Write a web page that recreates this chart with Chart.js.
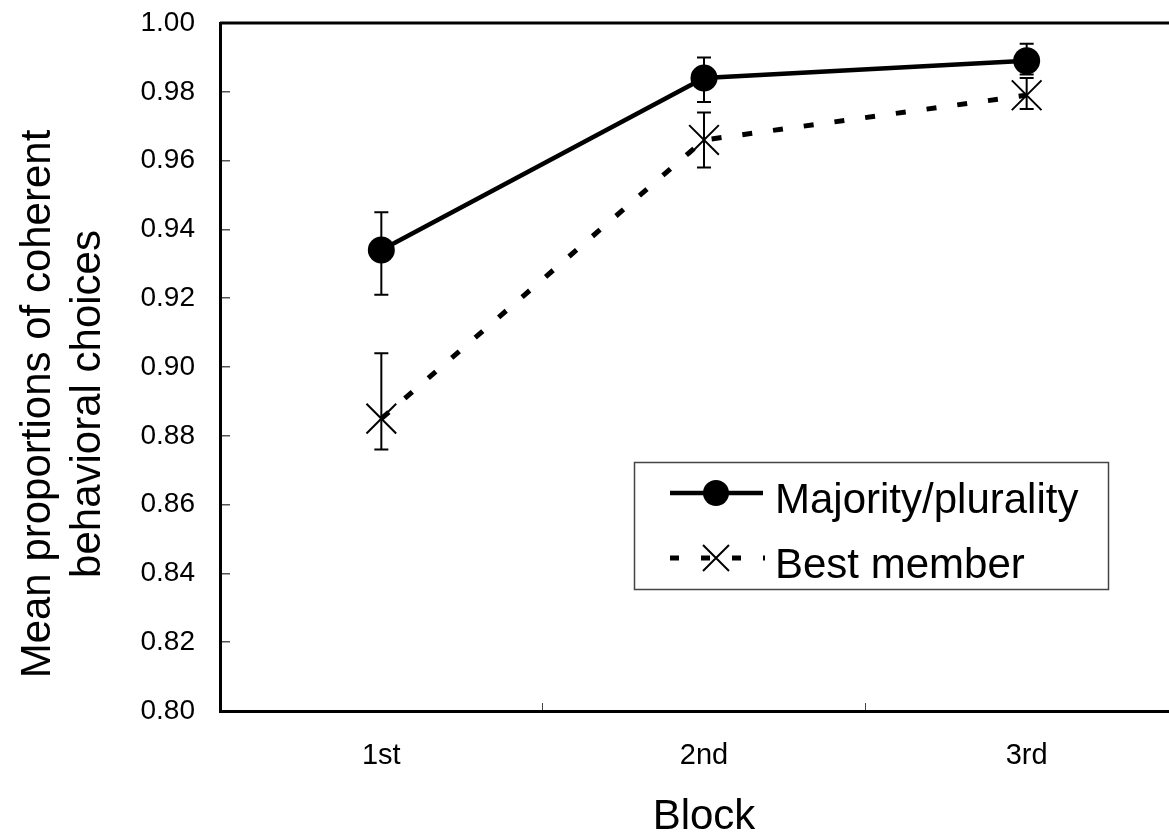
<!DOCTYPE html>
<html>
<head>
<meta charset="utf-8">
<script src="https://cdn.jsdelivr.net/npm/chart.js@4.4.1/dist/chart.umd.min.js"></script>
<style>
html, body { margin: 0; padding: 0; background: #fff; overflow: hidden; }
#wrap { position: relative; width: 1169px; height: 836px; }
</style>
</head>
<body>
<div id="wrap"><canvas id="myChart"></canvas></div>
<script>
// values
const blocks = ['1st', '2nd', '3rd'];
const majority = [0.934, 0.984, 0.989];
const majorityLow = [0.921, 0.977, 0.985];
const majorityHigh = [0.945, 0.990, 0.994];
const best = [0.885, 0.966, 0.979];
const bestLow = [0.876, 0.958, 0.975];
const bestHigh = [0.904, 0.974, 0.984];
const seriesNames = ['Majority/plurality', 'Best member'];
const yTitle = ['Mean proportions of coherent', 'behavioral choices'];
const xTitle = 'Block';

const FONT = '"Liberation Sans", Arial, sans-serif';

/*------ the original plot is cropped: its right edge lies past the picture ------*/
const widenX = {
    id: 'widenX',
    afterLayout(chart) {
        const xs = chart.scales.x, a = chart.chartArea;
        const right = 1188;
        xs.right = right;
        xs.width = right - xs.left;
        xs.configure();
        a.right = right;
        a.width = right - a.left;
    }
};

/*------ error bars, drawn through the scales ------*/
const errorBars = {
    id: 'errorBars',
    beforeDatasetsDraw(chart) {
        const ctx = chart.ctx, xs = chart.scales.x, ys = chart.scales.y;
        const sets = [[majorityLow, majorityHigh], [bestLow, bestHigh]];
        ctx.save();
        ctx.strokeStyle = '#000';
        ctx.lineWidth = 2;
        sets.forEach(([lo, hi]) => {
            lo.forEach((v, i) => {
                const px = xs.getPixelForValue(i);
                const y1 = ys.getPixelForValue(v), y2 = ys.getPixelForValue(hi[i]);
                ctx.beginPath();
                ctx.moveTo(px, y1); ctx.lineTo(px, y2);
                ctx.moveTo(px - 7, y1); ctx.lineTo(px + 7, y1);
                ctx.moveTo(px - 7, y2); ctx.lineTo(px + 7, y2);
                ctx.stroke();
            });
        });
        ctx.restore();
    }
};

/*------ top frame line, y title, legend box ------*/
const extras = {
    id: 'extras',
    afterDraw(chart) {
        const ctx = chart.ctx, a = chart.chartArea;
        ctx.save();
        // top border
        ctx.strokeStyle = '#000';
        ctx.lineWidth = 3;
        ctx.beginPath();
        ctx.moveTo(a.left, a.top);
        ctx.lineTo(chart.width, a.top);
        ctx.stroke();

        // y axis title (two lines)
        ctx.fillStyle = '#000';
        ctx.font = '42px ' + FONT;
        ctx.textAlign = 'center';
        ctx.textBaseline = 'alphabetic';
        ctx.save();
        ctx.translate(50, (a.top + a.bottom) / 2 + 37);
        ctx.rotate(-Math.PI / 2);
        ctx.fillText(yTitle[0], 0, 0);
        ctx.fillText(yTitle[1], 0, 50);
        ctx.restore();

        // legend
        ctx.strokeStyle = '#444';
        ctx.lineWidth = 1.5;
        ctx.strokeRect(634.5, 462.5, 474, 127);

        ctx.strokeStyle = '#000';
        ctx.lineWidth = 4.5;
        ctx.beginPath();
        ctx.moveTo(670, 493); ctx.lineTo(763, 493);
        ctx.stroke();
        ctx.beginPath();
        ctx.arc(716, 493, 13, 0, Math.PI * 2);
        ctx.fill();

        ctx.lineWidth = 5;
        ctx.setLineDash([9, 22]);
        ctx.beginPath();
        ctx.moveTo(670, 558); ctx.lineTo(765, 558);
        ctx.stroke();
        ctx.setLineDash([]);
        ctx.lineWidth = 2;
        ctx.beginPath();
        ctx.moveTo(703, 545); ctx.lineTo(729, 571);
        ctx.moveTo(729, 545); ctx.lineTo(703, 571);
        ctx.stroke();

        ctx.textAlign = 'left';
        ctx.fillText(seriesNames[0], 775, 513);
        ctx.fillText(seriesNames[1], 775, 578);
        ctx.restore();
    }
};

const ctx = document.getElementById('myChart');
const myChart = new Chart(ctx, {
    type: 'line',
    data: {
        labels: blocks,
        datasets: [{
            label: seriesNames[0],
            data: majority,
            borderColor: '#000',
            backgroundColor: '#000',
            borderWidth: 4.5,
            pointStyle: 'circle',
            pointRadius: 13.5,
            pointBackgroundColor: '#000',
            pointBorderWidth: 0,
            tension: 0
        }, {
            label: seriesNames[1],
            data: best,
            borderColor: '#000',
            backgroundColor: '#000',
            borderWidth: 5,
            borderDash: [10, 21],
            pointStyle: 'crossRot',
            pointRadius: 21,
            pointBorderWidth: 2,
            pointBorderColor: '#000',
            tension: 0
        }]
    },
    options: {
        responsive: true,
        maintainAspectRatio: false,
        animation: false,
        layout: { padding: { left: 0, top: 23, right: 2, bottom: 0 } },
        plugins: {
            legend: { display: false },
            tooltip: { enabled: false }
        },
        scales: {
            x: {
                offset: true,
                grid: { offset: true, drawOnChartArea: false, tickLength: -8, color: '#444', lineWidth: 1 },
                border: { color: '#000', width: 3 },
                ticks: { color: '#000', font: { family: FONT, size: 29 }, padding: 36 },
                title: { display: true, text: xTitle, color: '#000', font: { family: FONT, size: 42 }, padding: { top: 0, bottom: -7 } },
                afterFit(s) { s.height = 125; s.paddingLeft = 0; s.paddingRight = 0; }
            },
            y: {
                min: 0.8,
                max: 1.0,
                ticks: {
                    stepSize: 0.02,
                    color: '#000',
                    font: { family: FONT, size: 28 },
                    padding: 35,
                    callback: v => v.toFixed(2)
                },
                grid: { drawOnChartArea: false, tickLength: -10, color: '#555', lineWidth: 1.5 },
                border: { color: '#000', width: 3 },
                afterFit(s) { s.width = 220; s.paddingTop = 0; s.paddingBottom = 0; }
            }
        }
    },
    plugins: [widenX, errorBars, extras]
});
</script>
</body>
</html>
